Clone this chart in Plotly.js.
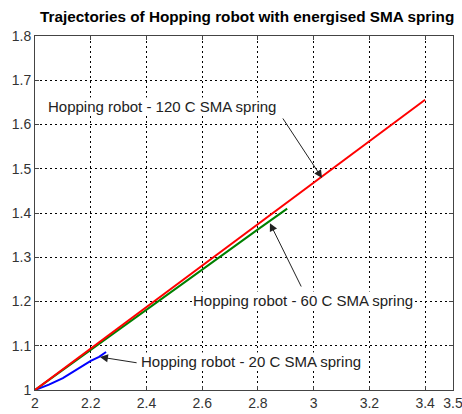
<!DOCTYPE html>
<html>
<head>
<meta charset="utf-8">
<script src="https://cdn.plot.ly/plotly-3.0.1.min.js"></script>
<style>html,body{margin:0;padding:0;background:#fff;}#chart{width:462px;height:414px;}</style>
</head>
<body>
<div id="chart"></div>
<script>
// Data
const x120 = [2.0, 2.2, 2.4, 2.6, 2.8, 3.0, 3.2, 3.4];
const y120 = [1.0, 1.094, 1.187, 1.281, 1.374, 1.468, 1.562, 1.656];
const x60 = [2.0, 2.2, 2.4, 2.6, 2.8, 2.905];
const y60 = [1.0, 1.090, 1.181, 1.272, 1.363, 1.410];
const x20 = [2.0, 2.05, 2.1, 2.15, 2.2, 2.23, 2.255];
const y20 = [1.0, 1.012, 1.027, 1.046, 1.066, 1.075, 1.086];

const xTicks = [2, 2.2, 2.4, 2.6, 2.8, 3, 3.2, 3.4, 3.5];
const xTickText = ['2', '2.2', '2.4', '2.6', '2.8', '3', '3.2', '3.4', '3.5'];
const yTicks = [1, 1.1, 1.2, 1.3, 1.4, 1.5, 1.6, 1.7, 1.8];
const yTickText = ['1', '1.1', '1.2', '1.3', '1.4', '1.5', '1.6', '1.7', '1.8'];

const labels = ['Hopping robot - 120 C SMA spring', 'Hopping robot - 60 C SMA spring', 'Hopping robot - 20 C SMA spring'];
const labelPos = [[2.043, 1.641], [2.565, 1.202], [2.378, 1.064]];
const arrowHead = [[3.030, 1.479], [2.843, 1.377], [2.233, 1.0746]];
const arrowTail = [[2.886, 1.617], [2.958, 1.2305], [2.370, 1.061]];

const FONT = 'Arial, "Liberation Sans", Helvetica, sans-serif';

const traces = [
  {x: x20, y: y20, mode: 'lines', line: {color: '#0000ff', width: 2}},
  {x: x60, y: y60, mode: 'lines', line: {color: '#008000', width: 2}},
  {x: x120, y: y120, mode: 'lines', line: {color: '#ff0000', width: 2}}
];

const annotations = [];
labels.forEach((t, i) => {
  annotations.push({
    x: labelPos[i][0], y: labelPos[i][1], xref: 'x', yref: 'y',
    text: t, showarrow: false, xanchor: 'left', yanchor: 'middle',
    font: {family: FONT, size: 15, color: '#222'}, bgcolor: '#ffffff', borderpad: 0
  });
  annotations.push({
    x: arrowHead[i][0], y: arrowHead[i][1], xref: 'x', yref: 'y',
    ax: arrowTail[i][0], ay: arrowTail[i][1], axref: 'x', ayref: 'y',
    text: '', showarrow: true, arrowhead: 2, arrowsize: 1.6, arrowwidth: 1,
    arrowcolor: '#222', standoff: 0, startstandoff: 0
  });
});

const axisCommon = {
  showline: true, linecolor: '#444', linewidth: 1, mirror: 'ticks',
  ticks: 'inside', ticklen: 4, tickcolor: '#444',
  showgrid: true, gridcolor: '#000', griddash: '2px,3px', gridwidth: 1,
  zeroline: false, tickfont: {family: FONT, size: 14, color: '#333'},
  ticklabeloverflow: 'allow'
};

const layout = {
  width: 462, height: 414,
  margin: {l: 35, r: 9, t: 36, b: 24},
  paper_bgcolor: '#fff', plot_bgcolor: '#fff',
  showlegend: false,
  title: {text: '<b>Trajectories of Hopping robot with energised SMA spring</b>',
    font: {family: FONT, size: 15.3, color: '#000'}, x: 0.535, xanchor: 'center', y: 0.96, yanchor: 'middle'},
  xaxis: Object.assign({}, axisCommon, {range: [2, 3.5], tickmode: 'array', tickvals: xTicks, ticktext: xTickText}),
  yaxis: Object.assign({}, axisCommon, {range: [1, 1.8], tickmode: 'array', tickvals: yTicks, ticktext: yTickText}),
  annotations: annotations
};

Plotly.newPlot('chart', traces, layout, {displayModeBar: false, staticPlot: true});
</script>
</body>
</html>
